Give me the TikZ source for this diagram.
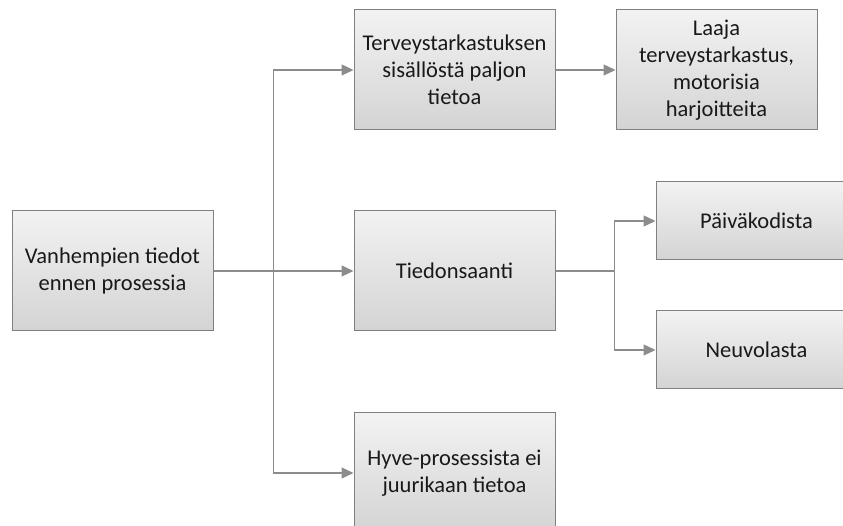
\documentclass[tikz,border=0pt]{standalone}
\usepackage{fontspec}
\setmainfont{Carlito}
\usetikzlibrary{positioning,arrows.meta}
\tikzset{
  box/.style={draw=black!50, line width=1pt, top color=black!5, bottom color=black!17,
    text=black!90, minimum width=201pt, minimum height=120pt, inner sep=0pt,
    align=center, font=\fontsize{22.5}{27}\selectfont},
  line/.style={draw=black!45, line width=1.3pt},
  arr/.style={line, -{Triangle[length=12pt,width=11pt]}}
}

\begin{document}
\begin{tikzpicture}[x=1pt, y=1pt]
\clip (0,0) rectangle (843,526);
\node[box] (parents) at (112.5,255) {Vanhempien tiedot\\ennen prosessia};
\node[box, right=140pt of parents] (info) {Tiedonsaanti};
\node[box, above=80pt of info] (content) {Terveystarkastuksen\\sisällöstä paljon\\tietoa};
\node[box, below=81pt of info] (hyve) {Hyve-prosessista ei\\juurikaan tietoa};
\node[box, right=60pt of content] (broad) {Laaja\\terveystarkastus,\\motorisia\\harjoitteita};
\node[box, minimum height=78pt, right=100pt of info, yshift=50pt] (daycare) {Päiväkodista};
\node[box, minimum height=78pt, right=100pt of info, yshift=-79pt] (clinic) {Neuvolasta};
% branches
\coordinate (split) at ([xshift=60pt]parents.east);
\draw[arr] (parents) -- (info);
\draw[arr] (split) |- (content);
\draw[arr] (split) |- (hyve);
\draw[arr] (content) -- (broad);
\coordinate (fork) at ([xshift=59pt]info.east);
\draw[line] (info) -- (fork);
\draw[arr] (fork) |- (daycare);
\draw[arr] (fork) |- (clinic);
\end{tikzpicture}
\end{document}
